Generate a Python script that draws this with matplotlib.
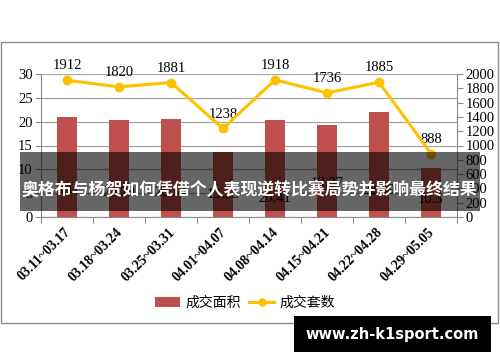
import matplotlib
matplotlib.use("Agg")
import matplotlib.pyplot as plt
from matplotlib.patches import Rectangle, Patch
from matplotlib.lines import Line2D
import numpy as np

categories = ["03.11~03.17", "03.18~03.24", "03.25~03.31", "04.01~04.07",
              "04.08~04.14", "04.15~04.21", "04.22~04.28", "04.29~05.05"]
area = [21, 20.29, 20.54, 13.55, 20.41, 19.37, 22.09, 10.3]
area_labels = ["21", "20.29", "20.54", "13.55", "20.41", "19.37", "22.09", "10.3"]
units = [1912, 1820, 1881, 1238, 1918, 1736, 1885, 888]
title = "奥格布与杨贺如何凭借个人表现逆转比赛局势并影响最终结果"
watermark = "www.zh-k1sport.com"
legend_labels = ["成交面积", "成交套数"]

bar_color = "#C0504D"
line_color = "#FFC000"
serif = ["Liberation Serif", "DejaVu Serif"]
cjk = ["Noto Sans CJK SC", "DejaVu Sans"]

fig = plt.figure(figsize=(5, 3.62), dpi=100)
fig.patch.set_facecolor("white")

# outer chart border
fig.patches.append(Rectangle((0.002, 1 - 323 / 362), 0.994, (323 - 42) / 362,
                             transform=fig.transFigure, fill=False,
                             edgecolor="#8c8c8c", linewidth=1.0, zorder=0))

ax = fig.add_axes([41 / 500, 1 - 217 / 362, 416 / 500, 143 / 362])
x = np.arange(len(categories))
ax.bar(x, area, width=0.4, color=bar_color, zorder=2)
ax.set_xlim(-0.5, len(categories) - 0.5)
ax.set_ylim(0, 30)
ax.set_yticks(np.arange(0, 31, 5))
ax.grid(axis="y", color="#a6a6a6", linewidth=0.9, zorder=0)
for s in ["top", "right"]:
    ax.spines[s].set_visible(False)
ax.spines["left"].set_color("#8c8c8c")
ax.spines["bottom"].set_color("#8c8c8c")
ax.set_xticks(np.arange(-0.5, len(categories), 1), minor=False)
ax.set_xticklabels([])
ax.tick_params(axis="x", length=4, color="#8c8c8c")
ax.tick_params(axis="y", length=4, color="#8c8c8c", labelsize=10.5, pad=2)
for lbl in ax.get_yticklabels():
    lbl.set_family(serif)
# category labels
for i, c in enumerate(categories):
    ax.text(i + 0.12, -1.8, c, rotation=45, ha="right", va="top",
            fontsize=10, family=serif, fontweight="bold", color="black")

# bar value labels (inside base)
label_y = [5.7, 5.2, 5.2, 4.8, 3.8, 7.1, 5.5, 3.6]
for i, (v, t) in enumerate(zip(area, area_labels)):
    ax.text(i, label_y[i], t, ha="center", va="center", fontsize=10.5,
            family=serif, color="black", zorder=3)

ax2 = ax.twinx()
ax2.plot(x, units, color=line_color, linewidth=2.2, marker="o", markersize=6,
         zorder=4)
ax2.set_ylim(0, 2000)
ax2.set_yticks(np.arange(0, 2001, 200))
for s in ["top", "left", "bottom"]:
    ax2.spines[s].set_visible(False)
ax2.spines["right"].set_color("#8c8c8c")
ax2.tick_params(axis="y", length=4, color="#8c8c8c", labelsize=10.5, pad=2)
for lbl in ax2.get_yticklabels():
    lbl.set_family(serif)
for i, v in enumerate(units):
    ax2.text(i, v + 110, str(v), ha="center", va="bottom", fontsize=10.5,
             family=serif, color="black")

# legend
handles = [Patch(facecolor=bar_color, edgecolor="none"),
           Line2D([0], [0], color=line_color, lw=2.2, marker="o", markersize=5)]
fig.legend(handles, legend_labels, loc="center", bbox_to_anchor=(245 / 500, 1 - 303 / 362),
           ncol=2, frameon=False, prop={"family": cjk, "size": 10},
           handlelength=1.8, handletextpad=0.4, columnspacing=0.6)

# dark overlay band with title
fig.patches.append(Rectangle((20 / 500, 1 - 211 / 362), 460 / 500, 59 / 362,
                             transform=fig.transFigure, facecolor="black",
                             alpha=0.6, edgecolor="none", zorder=10))
fig.text(249 / 500, 1 - 190 / 362, title, ha="center", va="center", color="white",
         fontsize=12.2, fontweight="bold", family=cjk, zorder=11)

# watermark banner
fig.patches.append(Rectangle((294 / 500, 1 - 352 / 362), 197 / 500, 36 / 362,
                             transform=fig.transFigure, facecolor="black",
                             edgecolor="none", zorder=10))
fig.text(392 / 500, 1 - 334 / 362, watermark, ha="center", va="center",
         color="white", fontsize=10.5, fontweight="bold",
         family=["DejaVu Sans"], zorder=11)

fig.savefig("out.png", dpi=100)
